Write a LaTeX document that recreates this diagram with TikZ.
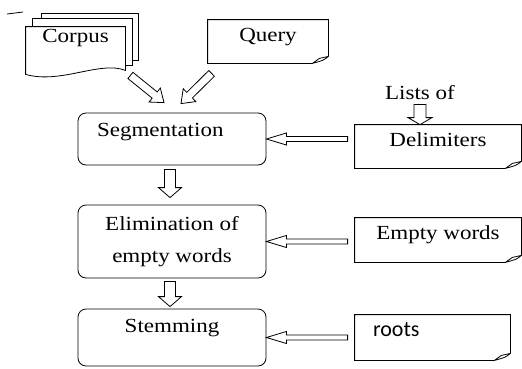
\documentclass[tikz,border=0pt]{standalone}
\usepackage{fontspec}
\setmainfont[FakeStretch=1.15]{Liberation Serif}
\newfontfamily\rootsfont{Carlito}
\usetikzlibrary{calc}
\newcommand\blockarrow[5]{%
  \draw[blockline] ($(#2)!#5!(#1)$) coordinate (neck)
    ($(#1)!#3!90:(#2)$) -- ($(neck)!#3!90:(#2)$) -- ($(neck)!#4!90:(#2)$) -- (#2)
    -- ($(neck)!#4!-90:(#2)$) -- ($(neck)!#3!-90:(#2)$) -- ($(#1)!#3!-90:(#2)$) -- cycle;}
\begin{document}
\begin{tikzpicture}[x=1pt,y=-1pt,line width=0.8pt,
    every node/.style={inner sep=0pt,font=\fontsize{20}{32}\selectfont},
    proc/.style={draw,rounded corners=8pt,minimum width=188pt},
    doc/.style={minimum height=43pt,text height=14pt},
    blockline/.style={draw,fill=white}]
  \useasboundingbox (0,0) rectangle (522,368);
  \draw (7,14) -- (23,12);
  \node[minimum width=99pt,minimum height=45pt,text height=14pt,text depth=29pt] (corpus) at (75.5,49.5) {Corpus};
  \node[doc,minimum width=120pt,text depth=15pt] (query) at (268,41.5) {Query};
  \node[proc,minimum height=52pt,text width=150pt,inner xsep=19pt,align=left,text height=14pt,text depth=20pt] (seg) at (172,139) {Segmentation};
  \node[proc,minimum height=73pt,align=center] (elim) at (172,241.5) {Elimination of\\empty words};
  \node[proc,minimum height=57pt,text height=14pt,text depth=25pt] (stem) at (172,337.5) {Stemming};
  \node[inner sep=4pt] (lists) at (420,93) {Lists of};
  \node[doc,minimum width=166pt,text depth=15pt] (delim) at (438,146.5) {Delimiters};
  \node[doc,minimum width=166pt,minimum height=44pt,text depth=16pt] (empty) at (438,240) {Empty words};
  \node[doc,minimum width=155pt,minimum height=45pt,text width=119pt,inner xsep=18pt,align=left,text depth=17pt,font=\rootsfont\fontsize{22}{26}\selectfont] (roots) at (432.5,337.5) {roots};
  \draw ($(corpus.north west)+(16,-8)$) -- ++(0,-5) -| ($(corpus.south east)+(13,-12)$) -- ++(-6,0);
  \draw ($(corpus.north west)+(7,0)$) -- ++(0,-8) -| ($(corpus.south east)+(7,-7)$) -- ++(-7,0);
  \draw (corpus.north west) -- (corpus.north east) -- ($(corpus.south east)+(0,-2)$)
    .. controls ($(corpus.south east)+(-25,-12)$) and ($(corpus.south west)+(35,12)$) .. ($(corpus.south west)+(0,2)$) -- cycle;
  \foreach \dn in {query,delim,empty,roots}
    \draw (\dn.south west) -- (\dn.north west) -- (\dn.north east) -- ($(\dn.south east)+(0,-7)$)
      .. controls ($(\dn.south east)+(-5,-3)$) .. ($(\dn.south east)+(-16,0)$) -- cycle
      ($(\dn.south east)+(0,-7)$) -- ($(\dn.south east)+(-9,-5)$) -- ($(\dn.south east)+(-16,0)$);
  \coordinate (ctail) at ($(corpus.south east)+(5,3)$);
  \coordinate (ctip) at ($(seg.north)+(-8,-10)$);
  \coordinate (qtail) at ($(query.south west)+(4,10)$);
  \coordinate (qtip) at ($(seg.north)+(9,-9)$);
  \coordinate (dtail) at ($(seg.east -| delim.west)+(-7,0)$);
  \coordinate (etail) at ($(elim.east -| empty.west)+(-7,0)$);
  \coordinate (rtail) at ($(stem.east -| roots.west)+(-7,0)$);
  \coordinate (s1) at ($(seg.south)+(-2,4)$);
  \coordinate (e1) at ($(elim.north)+(-2,-7)$);
  \coordinate (s2) at ($(elim.south)+(-2,3)$);
  \coordinate (e2) at ($(stem.north)+(-2,-2)$);
  \coordinate (ltip) at (lists.south |- delim.north);
  \begin{scope}[line width=0.8pt]
    \blockarrow{ctail}{ctip}{4pt}{9pt}{12pt}
    \blockarrow{qtail}{qtip}{4pt}{9pt}{12pt}
    \blockarrow{dtail}{seg.east}{2.5pt}{6pt}{20pt}
    \blockarrow{etail}{elim.east}{2.5pt}{6pt}{20pt}
    \blockarrow{rtail}{stem.east}{2.5pt}{6pt}{20pt}
    \blockarrow{s1}{e1}{5.5pt}{11.5pt}{10pt}
    \blockarrow{s2}{e2}{5.5pt}{11.5pt}{10pt}
    \blockarrow{lists.south}{ltip}{6pt}{12pt}{7pt}
  \end{scope}
\end{tikzpicture}
\end{document}
